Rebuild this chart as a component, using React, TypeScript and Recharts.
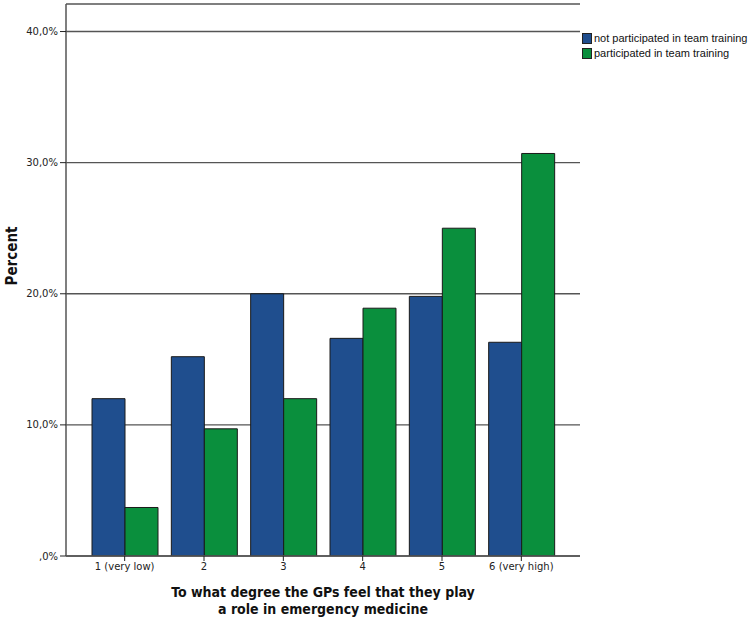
import React from 'react';
import { BarChart, Bar, XAxis, YAxis, CartesianGrid } from 'recharts';

const categories = ['1 (very low)', '2', '3', '4', '5', '6 (very high)'];
const notParticipated = [12.0, 15.2, 20.0, 16.6, 19.8, 16.3];
const participated = [3.7, 9.7, 12.0, 18.9, 25.0, 30.7];
const yTicks = [0, 10, 20, 30, 40];

const BLUE = '#1f4e8e';
const GREEN = '#0a8f3d';
const FRAME = '#555555';
const TITLE_FONT = '"DejaVu Sans Condensed", "DejaVu Sans", Verdana, sans-serif';

const data = categories.map((cat, i) => ({
    cat,
    notPart: notParticipated[i],
    part: participated[i],
}));

const fmtPct = (v: number) => (v === 0 ? ',0%' : `${v.toFixed(1).replace('.', ',')}%`);

const legendItems = [
    { label: 'not participated in team training', color: BLUE },
    { label: 'participated in team training', color: GREEN },
];

const LegendBox = () => (
    <div
        style={{
            position: 'absolute',
            left: 582,
            top: 31,
            fontFamily: '"Liberation Sans", Arial, sans-serif',
            fontSize: 11,
            color: '#111',
            lineHeight: '15px',
        }}
    >
        {legendItems.map((item) => (
            <div key={item.label} style={{ display: 'flex', alignItems: 'center', whiteSpace: 'nowrap' }}>
                <span
                    style={{
                        display: 'inline-block',
                        width: 8,
                        height: 9,
                        background: item.color,
                        border: '1px solid #222',
                        marginRight: 2,
                    }}
                />
                {item.label}
            </div>
        ))}
    </div>
);

const App: React.FC = () => {
    return (
        <div style={{ position: 'absolute', left: 0, top: 0, width: 750, height: 622, background: '#fff' }}>
            <BarChart
                width={750}
                height={622}
                data={data}
                margin={{ top: 4, right: 170, left: 0, bottom: 0 }}
                barCategoryGap={7}
                barGap={0}
            >
                <CartesianGrid vertical={false} stroke={FRAME} strokeWidth={1.4} />
                <XAxis
                    dataKey="cat"
                    padding={{ left: 19, right: 19 }}
                    axisLine={{ stroke: FRAME, strokeWidth: 1.5 }}
                    tickLine={{ stroke: '#222' }}
                    tickSize={5}
                    height={66}
                    tick={{ fontSize: 10, fill: '#222', fontFamily: '"DejaVu Sans", Verdana, sans-serif' }}
                    interval={0}
                />
                <XAxis
                    xAxisId="top"
                    dataKey="cat"
                    orientation="top"
                    height={0}
                    tick={false}
                    tickLine={false}
                    axisLine={{ stroke: FRAME, strokeWidth: 1.5 }}
                />
                <YAxis
                    domain={[0, 42.1]}
                    ticks={yTicks}
                    tickFormatter={fmtPct}
                    width={66}
                    tickSize={6}
                    tickMargin={2}
                    axisLine={{ stroke: FRAME, strokeWidth: 1.5 }}
                    tickLine={{ stroke: '#222' }}
                    tick={{ fontSize: 10, fill: '#222', fontFamily: '"DejaVu Sans", Verdana, sans-serif' }}
                    allowDataOverflow
                />
                <YAxis
                    yAxisId="right"
                    orientation="right"
                    width={0}
                    tick={false}
                    tickLine={false}
                    axisLine={{ stroke: FRAME, strokeWidth: 1.5 }}
                />
                <Bar dataKey="notPart" fill={BLUE} stroke="#1a1a1a" strokeWidth={1} isAnimationActive={false} />
                <Bar dataKey="part" fill={GREEN} stroke="#1a1a1a" strokeWidth={1} isAnimationActive={false} />
            </BarChart>
            <LegendBox />
            <div
                style={{
                    position: 'absolute',
                    left: 2,
                    top: 256,
                    transform: 'translate(-50%, -50%) rotate(-90deg)',
                    marginLeft: 10,
                    fontFamily: TITLE_FONT,
                    fontWeight: 'bold',
                    fontSize: 15,
                    color: '#111',
                }}
            >
                Percent
            </div>
            <div
                style={{
                    position: 'absolute',
                    left: 66,
                    width: 514,
                    top: 584,
                    textAlign: 'center',
                    fontFamily: TITLE_FONT,
                    fontWeight: 'bold',
                    fontSize: 14,
                    lineHeight: '17px',
                    color: '#111',
                }}
            >
                To what degree the GPs feel that they play
                <br />a role in emergency medicine
            </div>
        </div>
    );
};

export default App;
